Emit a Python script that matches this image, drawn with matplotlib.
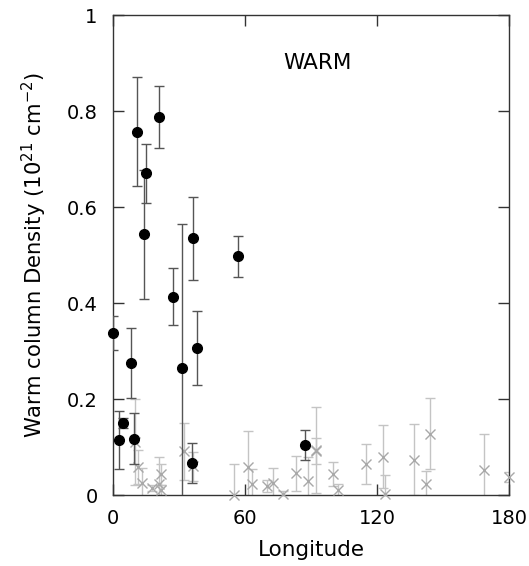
import matplotlib
matplotlib.use("Agg")
import matplotlib.pyplot as plt

# Warm (detected) points: longitude, column density, error
warm_lon = [0, 2.9, 4.7, 9.4, 8.2, 10.9, 15.1, 13.9, 21.0, 27.1, 31.4, 36.2, 38.2, 35.9, 56.7, 87.3]
warm_val = [0.337, 0.115, 0.150, 0.117, 0.275, 0.757, 0.670, 0.543, 0.788, 0.413, 0.265, 0.535, 0.306, 0.067, 0.497, 0.104]
warm_err = [0.035, 0.060, 0.010, 0.053, 0.072, 0.113, 0.061, 0.134, 0.064, 0.059, 0.300, 0.086, 0.077, 0.041, 0.043, 0.031]

# Other (gray) points
gray_lon = [9.8, 11.5, 13.0, 17.9, 20.8, 21.8, 21.8, 32.3, 36.2, 55.0, 61.4, 63.0, 70.0, 72.6, 77.4,
            83.1, 88.5, 92.0, 92.0, 99.7, 102.1, 115.0, 122.6, 123.6, 136.5, 142.1, 143.8, 168.3, 179.7]
gray_val = [0.110, 0.059, 0.026, 0.014, 0.023, 0.043, 0.010, 0.091, 0.060, 0.001, 0.059, 0.024, 0.019, 0.026, 0.003,
            0.045, 0.029, 0.094, 0.092, 0.043, 0.010, 0.065, 0.080, 0.002, 0.074, 0.022, 0.128, 0.052, 0.037]
gray_err = [0.090, 0.035, 0.030, 0.006, 0.057, 0.022, 0.010, 0.060, 0.030, 0.064, 0.075, 0.030, 0.013, 0.030, 0.005,
            0.037, 0.050, 0.090, 0.027, 0.025, 0.012, 0.042, 0.065, 0.040, 0.074, 0.029, 0.074, 0.075, 0.010]

x_ticks = [0, 60, 120, 180]
y_ticks = [0, 0.2, 0.4, 0.6, 0.8, 1]
y_tick_labels = ["0", "0.2", "0.4", "0.6", "0.8", "1"]

plt.rcParams['font.family'] = ['DejaVu Sans']
fig = plt.figure(figsize=(5.29, 5.66), dpi=100)
ax = fig.add_axes([0.2136, 0.1254, 0.7494, 0.848])

ax.errorbar(gray_lon, gray_val, yerr=gray_err, fmt='none', ecolor='#c4c4c4',
            elinewidth=1.0, capsize=3.5, capthick=1.0, zorder=2)
ax.plot(gray_lon, gray_val, linestyle='none', marker='x', color='#a8a8a8',
        markersize=6.5, markeredgewidth=1.0, zorder=3, clip_on=False)

ax.errorbar(warm_lon, warm_val, yerr=warm_err, fmt='none', ecolor='#555555',
            elinewidth=1.0, capsize=3.5, capthick=1.0, zorder=4)
ax.plot(warm_lon, warm_val, linestyle='none', marker='o', color='black',
        markersize=7, zorder=5, clip_on=False)

ax.set_xlim(0, 180)
ax.set_ylim(0, 1)
ax.set_xticks(x_ticks)
ax.set_xticklabels([str(t) for t in x_ticks])
ax.set_yticks(y_ticks)
ax.set_yticklabels(y_tick_labels)
ax.tick_params(direction='in', length=8, width=1, top=True, right=True,
               labelsize=14, color='#333333')
ax.tick_params(axis='x', pad=10)
ax.tick_params(axis='y', pad=11)
for s in ax.spines.values():
    s.set_linewidth(1.0)
    s.set_color('#333333')

ax.set_xlabel('Longitude', fontsize=15.5, labelpad=9)
ax.set_ylabel('Warm column Density (10$^{21}$ cm$^{-2}$)', fontsize=15.2, labelpad=13)
ax.text(93, 0.9, 'WARM', fontsize=15.5, ha='center', va='center')

fig.savefig('out.png', dpi=100)
